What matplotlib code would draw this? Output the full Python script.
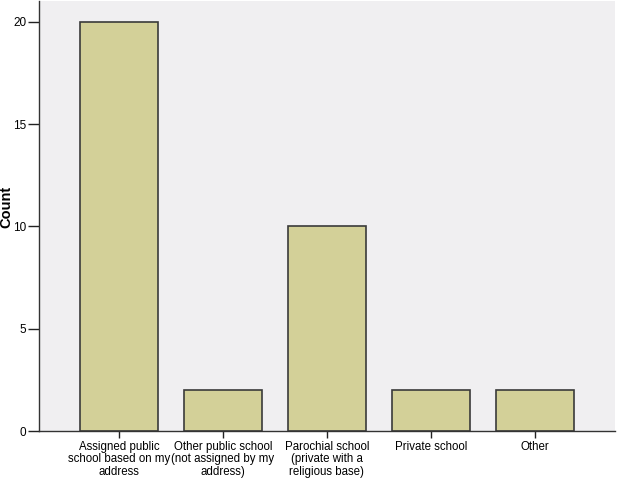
import matplotlib
matplotlib.use("Agg")
import matplotlib.pyplot as plt

categories = ["Assigned public\nschool based on my\naddress",
              "Other public school\n(not assigned by my\naddress)",
              "Parochial school\n(private with a\nreligious base)",
              "Private school",
              "Other"]
counts = [20, 2, 10, 2, 2]
y_ticks = [0, 5, 10, 15, 20]

plt.rcParams['font.family'] = ['Liberation Sans', 'DejaVu Sans']

fig = plt.figure(figsize=(6.18, 4.84), dpi=100)
ax = fig.add_axes([0.063, 0.1095, 0.932, 0.889])
ax.set_facecolor("#f0eff1")

x = list(range(len(categories)))
ax.bar(x, counts, width=0.75, color="#d3d098", edgecolor="#3a3a3a", linewidth=1.2, zorder=2)

ax.set_xlim(-0.77, 4.77)
ax.set_ylim(0, 21.03)
ax.set_xticks(x)
ax.set_xticklabels(categories, fontsize=8.3, linespacing=1.05)
ax.set_yticks(y_ticks)
ax.set_yticklabels([str(v) for v in y_ticks], fontsize=8.5)
ax.tick_params(axis="y", direction="out", length=8, width=1, color="#222222", pad=1)
ax.tick_params(axis="x", direction="out", length=5, width=1, color="#222222", pad=2)

for side in ["top", "right"]:
    ax.spines[side].set_visible(False)
for side in ["left", "bottom"]:
    ax.spines[side].set_color("#333333")
    ax.spines[side].set_linewidth(1)

# keep "Count" just inside the left edge, clear of the tick labels
ax.set_ylabel("Count", fontsize=10.5, fontweight="bold")
ax.yaxis.set_label_coords(-0.044, 0.52)

fig.savefig("out.png", dpi=100)
